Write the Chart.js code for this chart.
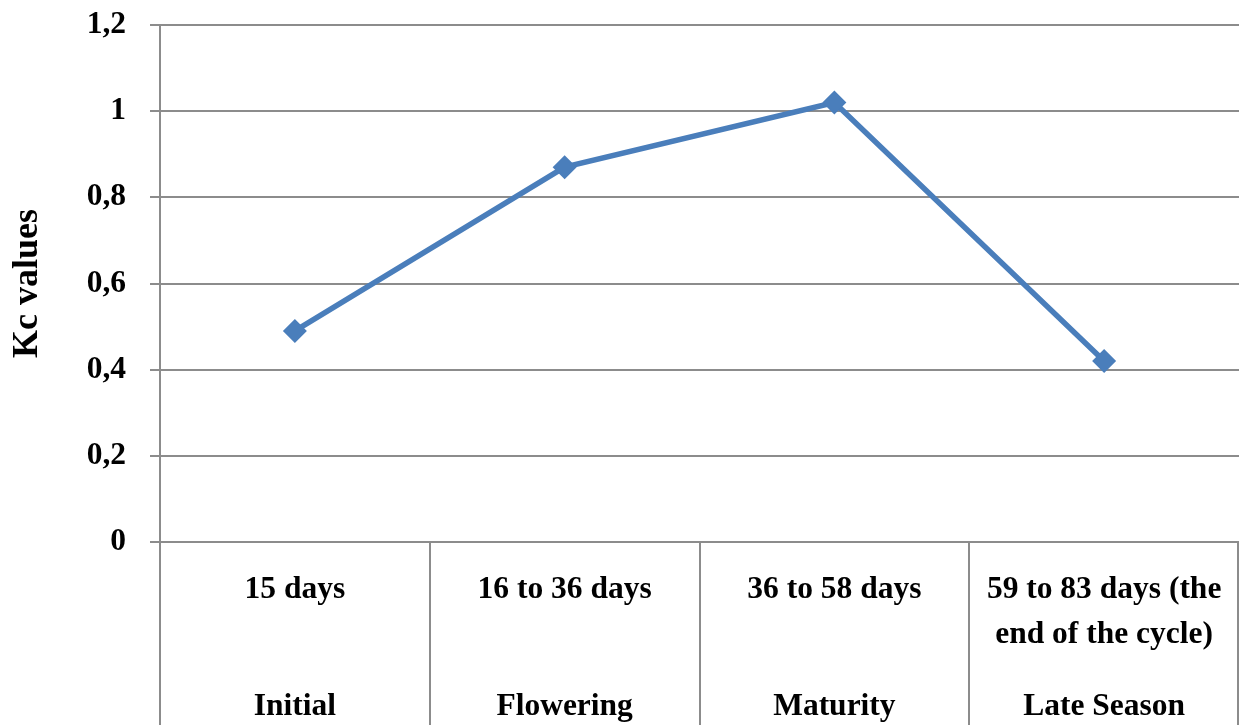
<!DOCTYPE html>
<html>
<head>
<meta charset="utf-8">
<script src="https://cdn.jsdelivr.net/npm/chart.js@4/dist/chart.umd.min.js"></script>
<style>
html,body{margin:0;padding:0;background:#fff;}
#wrap{width:1239px;height:725px;position:relative;}
</style>
</head>
<body>
<div id="wrap"><canvas id="c" width="1239" height="725"></canvas></div>
<script>
const periods = ["15 days", "16 to 36 days", "36 to 58 days", ["59 to 83 days (the", "end of the cycle)"]];
const stages = ["Initial", "Flowering", "Maturity", "Late Season"];
const kcValues = [0.49, 0.87, 1.02, 0.42];
const yTicks = [0, 0.2, 0.4, 0.6, 0.8, 1, 1.2];

const FONT = "'Liberation Serif', 'Times New Roman', serif";
const GRID = "#8c8c8c";

const categoryPlugin = {
  id: 'categoryPlugin',
  afterDraw(chart) {
    const ctx = chart.ctx;
    const xs = chart.scales.x;
    const area = chart.chartArea;
    const bottom = chart.height;
    ctx.save();
    ctx.strokeStyle = GRID;
    ctx.lineWidth = 2;
    const n = stages.length;
    for (let i = 0; i <= n; i++) {
      let px;
      if (i === 0) px = area.left;
      else if (i === n) px = area.right - 1;
      else px = (xs.getPixelForValue(i - 1) + xs.getPixelForValue(i)) / 2;
      ctx.beginPath();
      ctx.moveTo(Math.round(px), area.bottom);
      ctx.lineTo(Math.round(px), bottom);
      ctx.stroke();
    }
    ctx.fillStyle = "#000";
    ctx.font = "bold 31.5px " + FONT;
    ctx.textAlign = "center";
    ctx.textBaseline = "middle";
    for (let i = 0; i < n; i++) {
      const cx = xs.getPixelForValue(i);
      const p = periods[i];
      if (Array.isArray(p)) {
        p.forEach((line, j) => ctx.fillText(line, cx, area.bottom + 48 + j * 45));
      } else {
        ctx.fillText(p, cx, area.bottom + 48);
      }
      ctx.fillText(stages[i], cx, area.bottom + 165);
    }
    ctx.restore();
  }
};

new Chart(document.getElementById('c'), {
  type: 'line',
  data: {
    labels: stages,
    datasets: [{
      data: kcValues,
      borderColor: '#4a7ebb',
      backgroundColor: '#4a7ebb',
      borderWidth: 5.5,
      pointStyle: 'rectRot',
      pointRadius: 12,
      pointHoverRadius: 12,
      pointBorderWidth: 0,
      tension: 0,
      fill: false
    }]
  },
  options: {
    responsive: false,
    animation: false,
    devicePixelRatio: 1,
    layout: { autoPadding: false, padding: { top: 25, right: 0, bottom: 0, left: 0 } },
    plugins: { legend: { display: false }, tooltip: { enabled: false }, title: { display: false } },
    scales: {
      x: {
        type: 'category',
        offset: true,
        grid: { display: false },
        border: { display: false },
        ticks: { display: false },
        afterFit(scale) { scale.height = 183; }
      },
      y: {
        min: 0,
        max: 1.2,
        afterBuildTicks(scale) { scale.ticks = yTicks.map(v => ({ value: v })); },
        afterFit(scale) { scale.width = 160; scale.paddingTop = 0; scale.paddingBottom = 0; },
        grid: { color: GRID, lineWidth: 2, tickLength: 10, drawTicks: true },
        border: { display: true, color: GRID, width: 2 },
        ticks: {
          color: '#000',
          padding: 24,
          font: { family: FONT, size: 31.5, weight: 'bold' },
          callback: v => String(Number(v.toFixed(1))).replace('.', ',')
        },
        title: {
          display: true,
          text: 'Kc values',
          color: '#000',
          font: { family: FONT, size: 36, weight: 'bold' },
          padding: { top: 6, bottom: 0 }
        }
      }
    }
  },
  plugins: [categoryPlugin]
});
</script>
</body>
</html>
